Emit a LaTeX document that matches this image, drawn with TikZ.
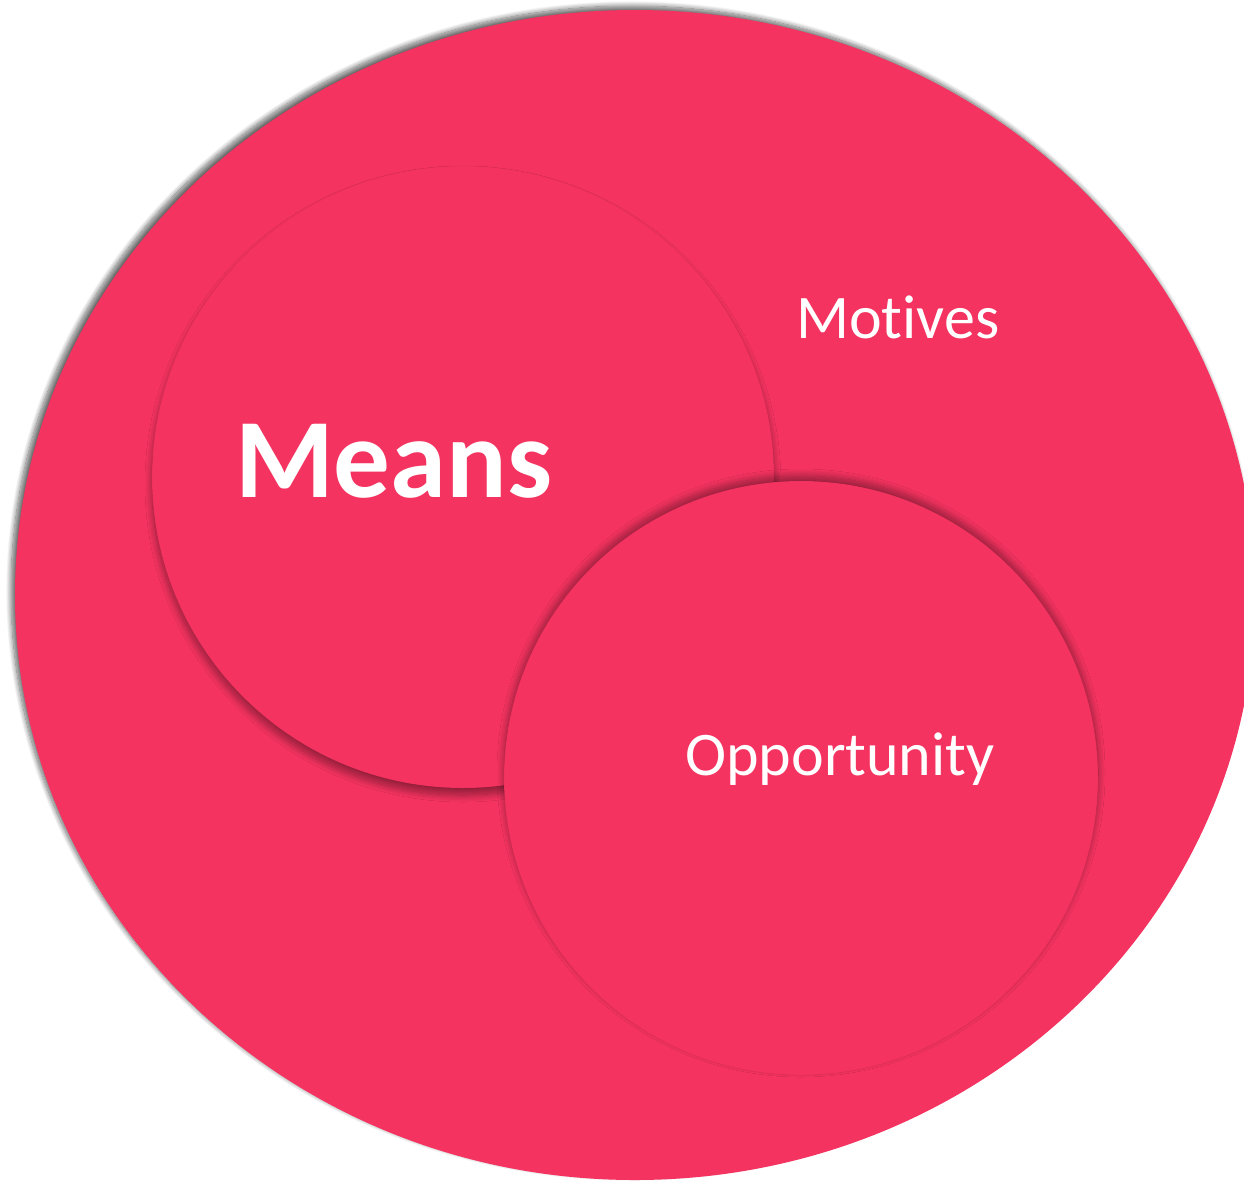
\documentclass[tikz,border=0pt]{standalone}
\usepackage{fontspec}
\setmainfont[Ligatures=NoCommon]{Carlito}
\usetikzlibrary{shapes.geometric,shadows.blur}
\definecolor{venn}{RGB}{244,51,96}
\tikzset{
  disc/.style={fill=venn, draw=black, draw opacity=0.045, line width=0.8pt, inner sep=0pt},
  label/.style={text=white, inner sep=0pt, anchor=base west},
}
\begin{document}
\begin{tikzpicture}[x=1pt,y=-1pt]
\useasboundingbox (0,0) rectangle (1244,1181);
\clip (0,0) rectangle (1244,1181);
% outer set: motives
\node[disc, draw=none, ellipse, minimum width=1240pt, minimum height=1170pt,
      blur shadow={shadow xshift=-4pt, shadow yshift=4pt, shadow opacity=60,
                   shadow blur radius=5pt, shadow blur steps=12}]
  (motives) at (635,595) {};
% means
\node[disc, circle, minimum size=622pt,
      blur shadow={shadow xshift=0pt, shadow yshift=-7pt, shadow opacity=40,
                   shadow blur radius=7pt, shadow blur steps=14}]
  (means) at (463,477) {};
% opportunity
\node[disc, circle, minimum size=594pt,
      blur shadow={shadow xshift=0pt, shadow yshift=5pt, shadow opacity=40,
                   shadow blur radius=7pt, shadow blur steps=14}]
  (opportunity) at (801,778) {};
% labels
\node[label, font=\fontsize{113}{120}\selectfont\bfseries] (meanslabel) at (235,497) {Means};
\node[label, font=\fontsize{62}{70}\selectfont] (motiveslabel) at (796,338) {Motives};
\node[label, font=\fontsize{62}{70}\selectfont] (opportunitylabel) at (685,775) {Opportunity};
\end{tikzpicture}
\end{document}
